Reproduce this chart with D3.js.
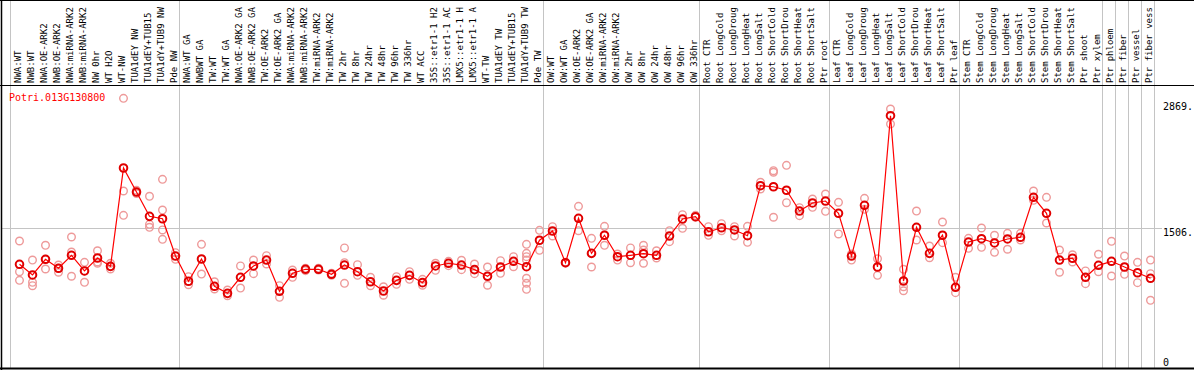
<!DOCTYPE html>
<html>
<head>
<meta charset="utf-8">
<script src="https://cdn.jsdelivr.net/npm/d3@7"></script>
<style>
    body { margin: 0; background: #fff; }
    svg { display: block; }
    text { font-family: "DejaVu Sans Mono", monospace; }
</style>
</head>
<body>
<div id="chart"></div>
<script>
// Gene id shown in the top-left corner
const geneId = "Potri.013G130800";

// Sample names, as printed on the vertical labels
const categories = [
    "NWA:WT", "NWB:WT", "NWA:OE-ARK2", "NWB:OE-ARK2", "NWA:miRNA-ARK2", "NWB:miRNA-ARK2",
    "NW 0hr", "WT H2O", "WT-NW", "TUA1dEY NW", "TUA1dEY+TUB15", "TUA1dY+TUB9 NW", "Pde NW",
    "NWA:WT GA", "NWBWT GA", "TW:WT", "TW:WT GA", "NWA:OE-ARK2 GA", "NWB:OE-ARK2 GA",
    "TW:OE-ARK2", "TW:OE-ARK2 GA", "NWA:miRNA-ARK2", "NWB:miRNA-ARK2", "TW:miRNA-ARK2",
    "TW:miRNA-ARK2", "TW 2hr", "TW 8hr", "TW 24hr", "TW 48hr", "TW 96hr", "TW 336hr",
    "WT ACC", "35S::etr1-1 H2", "35S::etr1-1 AC", "LMX5::etr1-1 H", "LMX5::etr1-1 A",
    "WT-TW", "TUA1dEY TW", "TUA1dEY+TUB15", "TUA1dY+TUB9 TW", "Pde TW",
    "OW:WT", "OW:WT GA", "OW:OE-ARK2", "OW:OE-ARK2 GA", "OW:miRNA-ARK2", "OW:miRNA-ARK2",
    "OW 2hr", "OW 8hr", "OW 24hr", "OW 48hr", "OW 96hr", "OW 336hr",
    "Root CTR", "Root LongCold", "Root LongDroug", "Root LongHeat", "Root LongSalt",
    "Root ShortCold", "Root ShortDrou", "Root ShortHeat", "Root ShortSalt", "Ptr root",
    "Leaf CTR", "Leaf LongCold", "Leaf LongDroug", "Leaf LongHeat", "Leaf LongSalt",
    "Leaf ShortCold", "Leaf ShortDrou", "Leaf ShortHeat", "Leaf ShortSalt", "Ptr leaf",
    "Stem CTR", "Stem LongCold", "Stem LongDroug", "Stem LongHeat", "Stem LongSalt",
    "Stem ShortCold", "Stem ShortDrou", "Stem ShortHeat", "Stem ShortSalt",
    "Ptr shoot", "Ptr xylem", "Ptr phloem", "Ptr fiber", "Ptr vessel", "Ptr fiber vess"
];

// Mean expression per sample (red line)
const means = [
    1118, 1003, 1172, 1075, 1215, 1046, 1186, 1096, 2156, 1897, 1635, 1609, 1207,
    935, 1175, 881, 805, 978, 1100, 1164, 827, 1021, 1064, 1064, 1010, 1110, 1038,
    930, 830, 945, 999, 920, 1100, 1129, 1110, 1060, 989, 1089, 1150, 1092, 1377,
    1477, 1135, 1614, 1236, 1431, 1200, 1215, 1232, 1215, 1423, 1606, 1631,
    1469, 1512, 1488, 1426, 1965, 1954, 1916, 1692, 1779, 1800,
    1668, 1207, 1754, 1089, 2720, 938, 1517, 1236, 1431, 870,
    1358, 1394, 1348, 1391, 1409, 1840, 1668, 1164, 1183,
    978, 1107, 1150, 1089, 1027, 967
];

// Individual replicates per sample (pink circles)
const replicates = [
    [1369, 1038, 945], [1164, 924, 887], [1323, 1172, 1067], [1110, 1032, 1075],
    [1412, 1250, 989], [1139, 924, 1046], [1264, 1143, 1129], [1129, 1067, 1096],
    [2907, 1908, 1646], [1880, 1897, 1915], [1851, 1549, 1517], [2034, 1703, 1488, 1387],
    [1243, 1172],
    [984, 898], [1333, 1013], [930, 852], [841, 779], [1100, 862], [1164, 1017],
    [1211, 1121], [887, 762], [1056, 978], [1075, 1049], [1075, 1056], [1021, 999],
    [1294, 913, 1135], [1114, 999], [978, 887], [876, 784], [984, 902], [1038, 956],
    [956, 892], [1129, 1053], [1150, 1103], [1161, 1060], [1121, 1017], [1089, 892],
    [1157, 1021], [1200, 1092], [1333, 1236, 1200, 1164, 967, 913, 848], [1484, 1269],
    [1523, 1423], [1130, 1140], [1743, 1480], [1398, 1089], [1527, 1323], [1229, 1164],
    [1294, 1135], [1323, 1129, 1272], [1264, 1186], [1480, 1362], [1653, 1506], [1646, 1625],
    [1523, 1430], [1556, 1480], [1523, 1423], [1527, 1355], [2002, 1930],
    [2127, 1625, 2110], [2185, 1782], [1728, 1642], [1822, 1732], [1876, 1689],
    [1786, 1445], [1229, 1164], [1829, 1711], [1178, 999], [2792, 2630],
    [1064, 876, 833], [1692, 1380], [1315, 1189], [1574, 1351], [978, 812],
    [1398, 1290], [1509, 1301], [1431, 1247], [1452, 1280], [1452, 1380],
    [1908, 1808], [1840, 1563], [1272, 1032], [1221, 1143],
    [1046, 909], [1226, 1038], [1366, 992], [1207, 1010], [1139, 920], [1164, 1017, 730]
];

// Group separators (index of the first sample after each break)
const groupBreaks = [0, 13, 41, 53, 63, 73, 84, 85, 86, 87, 88];

// Values printed on the right-hand axis
const axisTicks = [0, 1506, 2869];

const width = 1194, height = 370;
const plotTop = 85, plotBottom = 368;

const svg = d3.select("#chart")
    .append("svg")
    .attr("width", width)
    .attr("height", height);

const x = d3.scaleBand()
    .domain(d3.range(categories.length))
    .range([11, 11 + 13 * categories.length])
    .padding(0);

const y = d3.scaleLinear()
    .domain([0, 2869])
    .range([plotBottom, plotBottom - 2869 * 0.092762]);

const px = (i) => x(i) + x.bandwidth() / 2 + 2;

// Vertical grey separators
svg.append("g")
    .selectAll("line")
    .data(groupBreaks)
    .enter()
    .append("line")
    .attr("x1", (k) => (k === 0 ? 10.5 : x.step() * k + 11 - 0.5))
    .attr("x2", (k) => (k === 0 ? 10.5 : x.step() * k + 11 - 0.5))
    .attr("y1", 0)
    .attr("y2", plotBottom)
    .attr("stroke", "#c4c4c4")
    .attr("stroke-width", 1);

// Horizontal grey line at the middle tick
svg.append("line")
    .attr("x1", 2)
    .attr("x2", 1162)
    .attr("y1", Math.round(y(1506)) + 0.5)
    .attr("y2", Math.round(y(1506)) + 0.5)
    .attr("stroke", "#c4c4c4");

// Frame lines
svg.append("line").attr("x1", 0).attr("x2", width).attr("y1", 0.5).attr("y2", 0.5).attr("stroke", "#000");
svg.append("line").attr("x1", 0).attr("x2", width).attr("y1", plotTop + 0.5).attr("y2", plotTop + 0.5).attr("stroke", "#000");
svg.append("line").attr("x1", 0).attr("x2", width).attr("y1", plotBottom + 0.5).attr("y2", plotBottom + 0.5).attr("stroke", "#000").attr("stroke-width", 2);
svg.append("line").attr("x1", 1.5).attr("x2", 1.5).attr("y1", 0).attr("y2", height).attr("stroke", "#000").attr("stroke-width", 1.5);

// Vertical sample labels
svg.append("g")
    .selectAll("text")
    .data(categories)
    .enter()
    .append("text")
    .attr("transform", (d, i) => `translate(${x(i) + x.bandwidth() / 2 + 3.5},${plotTop - 2}) rotate(-90)`)
    .attr("font-size", 9)
    .attr("fill", "#000")
    .text((d) => d);

// Right axis values
svg.append("g")
    .selectAll("text")
    .data(axisTicks)
    .enter()
    .append("text")
    .attr("x", 1163)
    .attr("y", (d) => (d === 0 ? plotBottom - 2 : y(d) + 8))
    .attr("font-size", 10)
    .attr("fill", "#000")
    .text((d) => (d === 0 ? "0" : d + "."));

// Gene id
svg.append("text")
    .attr("x", 9)
    .attr("y", 101)
    .attr("font-size", 10)
    .attr("fill", "#ff0000")
    .text(geneId);

// Replicate circles
const repData = [];
replicates.forEach((reps, i) => reps.forEach((v) => repData.push({ i, v })));

svg.append("g")
    .selectAll("circle")
    .data(repData)
    .enter()
    .append("circle")
    .attr("cx", (d) => px(d.i))
    .attr("cy", (d) => y(d.v))
    .attr("r", 3.8)
    .attr("fill", "none")
    .attr("stroke", "#ee9a9a")
    .attr("stroke-width", 1.4);

// Mean line
const line = d3.line()
    .x((d, i) => px(i))
    .y((d) => y(d));

svg.append("path")
    .datum(means)
    .attr("d", line)
    .attr("fill", "none")
    .attr("stroke", "#ff0000")
    .attr("stroke-width", 1.2);

// Mean circles
svg.append("g")
    .selectAll("circle")
    .data(means)
    .enter()
    .append("circle")
    .attr("cx", (d, i) => px(i))
    .attr("cy", (d) => y(d))
    .attr("r", 3.8)
    .attr("fill", "none")
    .attr("stroke", "#e00000")
    .attr("stroke-width", 2);
</script>
</body>
</html>
